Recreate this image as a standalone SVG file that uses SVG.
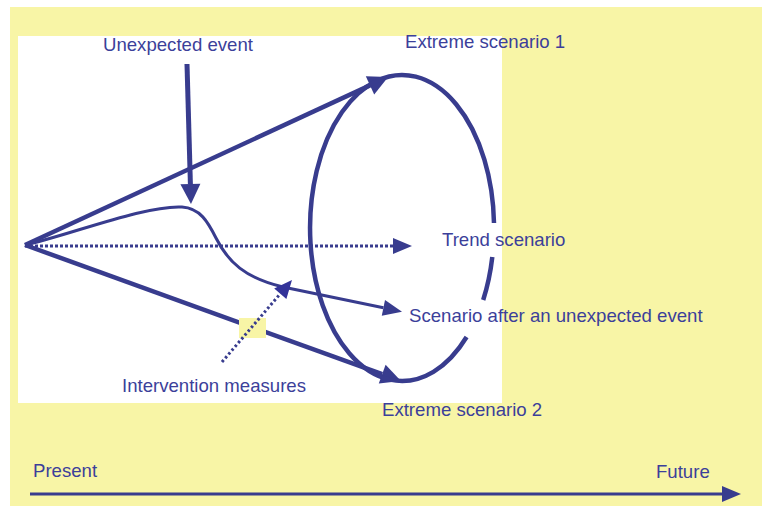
<svg xmlns="http://www.w3.org/2000/svg" width="762" height="506" viewBox="0 0 762 506">
<style>
  .ln{fill:none;stroke:#383c8e;stroke-linecap:butt}
  .t{font-family:"Liberation Sans",Arial,sans-serif;font-size:18.6px;fill:#3c3f9a}
</style>
<defs>
  <marker id="ah" markerUnits="userSpaceOnUse" orient="auto" markerWidth="24" markerHeight="24" refX="0" refY="0" viewBox="0 -12 24 24" overflow="visible">
    <path d="M0,-10 L20,0 L0,10 Z" fill="#383c8e"/>
  </marker>
  <marker id="ahs" markerUnits="userSpaceOnUse" orient="auto" markerWidth="24" markerHeight="24" refX="0" refY="0" viewBox="0 -12 24 24" overflow="visible">
    <path d="M0,-8 L19,0 L0,8 Z" fill="#383c8e"/>
  </marker>
  <marker id="ahi" markerUnits="userSpaceOnUse" orient="auto" markerWidth="24" markerHeight="24" refX="0" refY="0" viewBox="0 -12 24 24" overflow="visible">
    <path d="M0,-8 L18,0 L0,8 Z" fill="#333399"/>
  </marker>
</defs>
<rect x="10" y="7" width="752" height="499" fill="#f8f5a6"/>
<rect x="18" y="36" width="484" height="367" fill="#ffffff"/>
<g id="connectors">
  <line class="ln" x1="25" y1="245" x2="370" y2="85.4" stroke-width="4.5" marker-end="url(#ah)"/>
  <line class="ln" x1="25" y1="245" x2="382.2" y2="374.2" stroke-width="4.5" marker-end="url(#ah)"/>
  <line class="ln" x1="25" y1="246" x2="393" y2="246" stroke-width="3" stroke-dasharray="3,2" marker-end="url(#ahs)"/>
  <line class="ln" x1="187" y1="64" x2="190.4" y2="184" stroke-width="5" marker-end="url(#ah)"/>
  <path class="ln" d="M25,245 C70,235 145,205 182,207 C200,208 208,222 216,238 C228,262 245,278 283,287 L383.4,307.8" stroke-width="3" marker-end="url(#ahs)"/>
  <rect x="239" y="318" width="27" height="20" fill="#f8f5a6"/>
  <line class="ln" x1="222" y1="362" x2="280.3" y2="293.7" stroke="#333399" stroke-width="3" stroke-dasharray="2.5,2.5" marker-end="url(#ahi)"/>
  <line class="ln" x1="30" y1="494" x2="722" y2="494" stroke-width="3" marker-end="url(#ahs)"/>
</g>
<g id="ellipse">
  <path class="ln" stroke-width="4.5" d="M492.3,257 A92,153 0 0 1 483.2,300 M466.6,337 A92,153 0 1 1 494,223"/>
</g>
<g id="labels">
  <text class="t" x="103" y="51">Unexpected event</text>
  <text class="t" x="405" y="48">Extreme scenario 1</text>
  <text class="t" x="442" y="246">Trend scenario</text>
  <text class="t" x="409" y="322">Scenario after an unexpected event</text>
  <text class="t" x="122" y="392">Intervention measures</text>
  <text class="t" x="382" y="416">Extreme scenario 2</text>
  <text class="t" x="33" y="477">Present</text>
  <text class="t" x="656" y="478">Future</text>
</g>
</svg>
